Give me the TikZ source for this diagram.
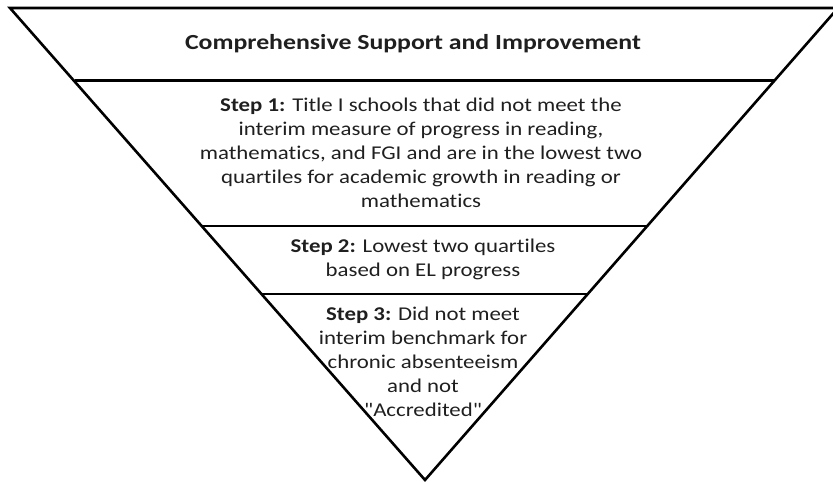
\documentclass[tikz,border=0pt]{standalone}
\usepackage{fontspec}
\setmainfont{Carlito}[Ligatures={TeX,NoCommon}]
\begin{document}
\begin{tikzpicture}[x=1pt,y=-1pt,
  edge/.style={line width=2.6pt,black},
  txt/.style={align=center,text=black!88,font=\fontsize{19.5}{24}\selectfont,inner sep=0pt,xscale=1.17,transform shape}]
\useasboundingbox (0,0) rectangle (833,482);
\begin{scope}
\clip (0,0) rectangle (833,482);
\coordinate (tl) at (10,8);
\coordinate (tr) at (838,8);
\coordinate (ap) at (425,480);
\draw[edge,line join=miter] (tl) -- (tr) -- (ap) -- cycle;
\draw[edge] (74.5,80.5) -- (774,80.5);
\draw[edge] (202,226) -- (647,226);
\draw[edge] (261,294) -- (588,294);
\end{scope}
\node[txt,font=\fontsize{21.5}{25}\selectfont\bfseries,xscale=1.2/1.17] (title) at (413,44) {Comprehensive Support and Improvement};
\node[txt] (s1) at (421,153) {\textbf{Step 1:} Title I schools that did not meet the\\interim measure of progress in reading,\\mathematics, and FGI and are in the lowest two\\quartiles for academic growth in reading or\\mathematics};
\node[txt] (s2) at (423,259) {\textbf{Step 2:} Lowest two quartiles\\based on EL progress};
\node[txt] (s3) at (423,362) {\textbf{Step 3:} Did not meet\\interim benchmark for\\chronic absenteeism\\and not\\\textquotedbl Accredited\textquotedbl};
\end{tikzpicture}
\end{document}
